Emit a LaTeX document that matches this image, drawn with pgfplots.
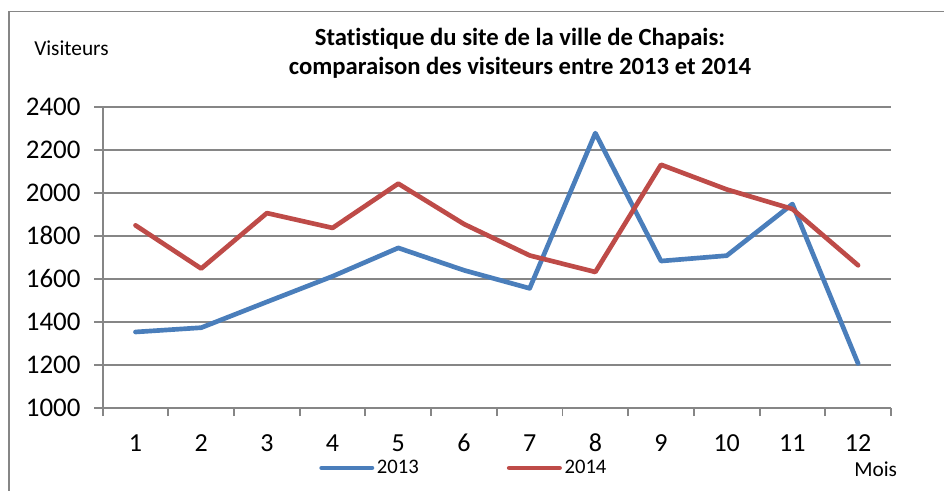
\documentclass[border=0pt]{standalone}
\usepackage{fontspec}
\setmainfont[Ligatures=NoCommon]{Carlito}
\usepackage{pgfplots}
\pgfplotsset{compat=1.18}
\definecolor{sblue}{HTML}{4A7EBB}
\definecolor{sred}{HTML}{BE4B48}
\definecolor{gridc}{HTML}{868686}
\begin{document}
\begin{tikzpicture}
\useasboundingbox (0,0) rectangle (708pt,368.25pt);
\begin{scope}[x=0.75pt,y=-0.75pt,shift={(0pt,368.25pt)}]
  \draw[gridc, line width=1.5pt] (9,11.5) -- (9,600);
  \draw[gridc, line width=0.9pt] (8,11.5) -- (1000,11.5);
  \node[anchor=base, font=\bfseries\fontsize{18.5}{19}\selectfont, inner sep=0pt] at (520,46) {Statistique du site de la ville de Chapais:};
  \node[anchor=base, font=\bfseries\fontsize{18.5}{19}\selectfont, inner sep=0pt] at (520,75) {comparaison des visiteurs entre 2013 et 2014};
  \node[anchor=base west, font=\fontsize{16}{16}\selectfont, inner sep=0pt] at (34,56) {Visiteurs};
  \node[anchor=base west, font=\fontsize{16}{16}\selectfont, inner sep=0pt] at (854,476.5) {Mois};
\end{scope}
\begin{axis}[
  at={(77.0pt,62.5pt)}, anchor=south west,
  scale only axis, width=591.2pt, height=225.75pt,
  xmin=0.5, xmax=12.5, ymin=1000, ymax=2400,
  axis x line*=bottom, axis y line*=left,
  axis line style={gridc, line width=1.4pt, -},
  xtick={1,...,12},
  minor xtick={0.5,1.5,...,12.5},
  ytick={1000,1200,...,2400},
  tick align=outside,
  major tick length=6.4pt, minor tick length=6.4pt,
  major x tick style={draw=none},
  minor x tick style={gridc, line width=1.4pt},
  major y tick style={gridc, line width=1.4pt},
  ymajorgrids, grid style={gridc, line width=1.4pt},
  /pgf/number format/assume math mode=true,
  /pgf/number format/set thousands separator={},
  ticklabel style={font=\fontsize{19.5}{19.5}\selectfont},
  yticklabel style={anchor=east, inner sep=0pt, xshift=-10pt, font=\fontsize{20.2}{20.2}\selectfont},
  xticklabel style={anchor=center, inner sep=0pt, yshift=-20pt},
  legend style={at={(0.2745,-0.200)}, anchor=west, draw=none, fill=none, inner sep=0pt,
    font=\fontsize{15.5}{16}\selectfont, legend columns=2,
    /tikz/every even column/.append style={column sep=64pt}},
  legend image code/.code={\draw[#1, line cap=round] (1.75pt,0pt) -- (39.5pt,0pt);},
  every axis plot/.append style={line width=3.5pt, line join=round, line cap=round},
]
\addplot[sblue] coordinates {(1,1352) (2,1372) (3,1492) (4,1611) (5,1743) (6,1639) (7,1555) (8,2277) (9,1682) (10,1707) (11,1947) (12,1205)};
\addlegendentry{2013}
\addplot[sred] coordinates {(1,1848) (2,1647) (3,1905) (4,1836) (5,2042) (6,1854) (7,1708) (8,1631) (9,2130) (10,2015) (11,1924) (12,1662)};
\addlegendentry{2014}
\end{axis}
\end{tikzpicture}
\end{document}
